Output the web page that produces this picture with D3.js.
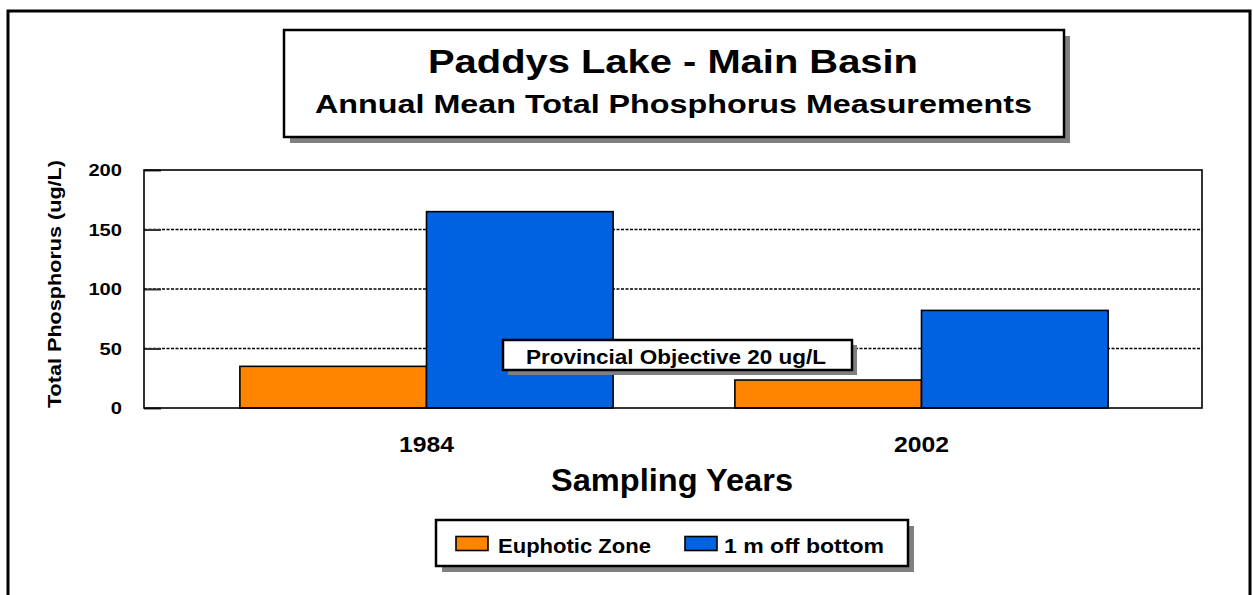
<!DOCTYPE html>
<html>
<head>
<meta charset="utf-8">
<script src="https://cdn.jsdelivr.net/npm/d3@7"></script>
<style>
  html, body { margin: 0; padding: 0; background: #fff; }
  svg { display: block; font-family: "Liberation Sans", Arial, sans-serif; font-weight: bold; }
</style>
</head>
<body>
<svg id="chart" width="1253" height="595"></svg>
<script>
// ---- Data ----
const years = ["1984", "2002"];
const seriesNames = ["Euphotic Zone", "1 m off bottom"];
const euphoticZone = [35, 23.5];
const offBottom = [165, 82];
const yTicks = [0, 50, 100, 150, 200];
const gridValues = [50, 100, 150];
const seriesColors = ["#ff8400", "#0062e0"];
const titleText = "Paddys Lake - Main Basin";
const subtitleText = "Annual Mean Total Phosphorus Measurements";
const xTitle = "Sampling Years";
const yTitle = "Total Phosphorus (ug/L)";
const objectiveText = "Provincial Objective 20 ug/L";

// ---- Layout ----
const svg = d3.select("#chart");
const plot = { left: 144, top: 170, right: 1202, bottom: 408 };

const x0 = d3.scaleBand().domain(years).range([179, 1169]).paddingInner(0);
const x1 = d3.scaleBand().domain(seriesNames)
  .range([x0.bandwidth() * 0.123, x0.bandwidth() * 0.877]).padding(0);
const y = d3.scaleLinear().domain([0, 200]).range([plot.bottom, plot.top]);
const color = d3.scaleOrdinal().domain(seriesNames).range(seriesColors);

const rows = years.map((yr, i) => ({ year: yr, values: [euphoticZone[i], offBottom[i]] }));

// Outer border
svg.append("rect").attr("x", 8).attr("y", 11).attr("width", 1242).attr("height", 640)
  .attr("fill", "none").attr("stroke", "#000").attr("stroke-width", 3);

// Helper: box with shadow
function shadowBox(x, yy, w, h, off) {
  svg.append("rect").attr("x", x + off).attr("y", yy + off).attr("width", w).attr("height", h)
    .attr("fill", "#808080");
  svg.append("rect").attr("x", x).attr("y", yy).attr("width", w).attr("height", h)
    .attr("fill", "#fff").attr("stroke", "#000").attr("stroke-width", 2.5);
}

// Title box
shadowBox(284, 30, 780, 107, 6);
svg.append("text").attr("x", 673).attr("y", 72.5).attr("text-anchor", "middle")
  .attr("font-size", 34).attr("textLength", 490).attr("lengthAdjust", "spacingAndGlyphs")
  .text(titleText);
svg.append("text").attr("x", 673.5).attr("y", 112.5).attr("text-anchor", "middle")
  .attr("font-size", 26.5).attr("textLength", 717).attr("lengthAdjust", "spacingAndGlyphs")
  .text(subtitleText);

// Plot background
svg.append("rect").attr("x", plot.left).attr("y", plot.top)
  .attr("width", plot.right - plot.left).attr("height", plot.bottom - plot.top)
  .attr("fill", "#fff");

// Gridlines
svg.append("g").selectAll("line").data(gridValues).join("line")
  .attr("x1", plot.left).attr("x2", plot.right)
  .attr("y1", d => y(d)).attr("y2", d => y(d))
  .attr("stroke", "#000").attr("stroke-width", 1.6).attr("stroke-dasharray", "3,1.5");

// Y axis
const yAxis = d3.axisLeft(y).tickValues(yTicks).tickSize(-17).tickPadding(22)
  .tickFormat(d3.format("d"));
const gy = svg.append("g").attr("transform", `translate(${plot.left},0)`).call(yAxis);
gy.select(".domain").remove();
gy.selectAll(".tick line").attr("stroke", "#333").attr("stroke-width", 2);
gy.selectAll(".tick text")
  .attr("font-family", "Liberation Sans, Arial, sans-serif").attr("font-weight", "bold")
  .attr("font-size", 17.2).attr("fill", "#000")
  .attr("textLength", d => String(d).length * 11.2).attr("lengthAdjust", "spacingAndGlyphs");

// Bars
const groups = svg.append("g").selectAll("g").data(rows).join("g")
  .attr("transform", d => `translate(${x0(d.year)},0)`);
groups.selectAll("rect").data(d => d.values.map((v, i) => ({ key: seriesNames[i], value: v })))
  .join("rect")
  .attr("x", d => x1(d.key))
  .attr("y", d => y(d.value))
  .attr("width", x1.bandwidth())
  .attr("height", d => y(0) - y(d.value))
  .attr("fill", d => color(d.key))
  .attr("stroke", "#000").attr("stroke-width", 1.6);

// Plot frame
svg.append("rect").attr("x", plot.left).attr("y", plot.top)
  .attr("width", plot.right - plot.left).attr("height", plot.bottom - plot.top)
  .attr("fill", "none").attr("stroke", "#000").attr("stroke-width", 1.6);

// X axis labels
const xAxis = d3.axisBottom(x0).tickSize(0).tickPadding(0);
const gx = svg.append("g").attr("transform", `translate(0,${plot.bottom})`).call(xAxis);
gx.select(".domain").remove();
gx.selectAll(".tick text")
  .attr("font-family", "Liberation Sans, Arial, sans-serif").attr("font-weight", "bold")
  .attr("font-size", 22).attr("fill", "#000").attr("dy", 0).attr("y", 43.5)
  .attr("textLength", 55).attr("lengthAdjust", "spacingAndGlyphs");

// Axis titles
svg.append("text").attr("x", 672).attr("y", 491).attr("text-anchor", "middle")
  .attr("font-size", 32).attr("textLength", 242).attr("lengthAdjust", "spacingAndGlyphs")
  .text(xTitle);
svg.append("text").attr("transform", "translate(61,284) rotate(-90)")
  .attr("text-anchor", "middle").attr("font-size", 17.5)
  .attr("textLength", 248).attr("lengthAdjust", "spacingAndGlyphs")
  .text(yTitle);

// Provincial Objective annotation
shadowBox(503, 340, 349, 30, 5);
svg.append("text").attr("x", 676).attr("y", 364).attr("text-anchor", "middle")
  .attr("font-size", 19.5).attr("textLength", 300).attr("lengthAdjust", "spacingAndGlyphs")
  .text(objectiveText);

// Legend
shadowBox(436, 520, 472, 46, 6);
const legendItems = [
  { swatchX: 456, textX: 498, textW: 153 },
  { swatchX: 685, textX: 724, textW: 160 }
];
const lg = svg.append("g").selectAll("g").data(seriesNames).join("g");
lg.append("rect")
  .attr("x", (d, i) => legendItems[i].swatchX).attr("y", 536.5)
  .attr("width", 32).attr("height", 14)
  .attr("fill", d => color(d)).attr("stroke", "#000").attr("stroke-width", 1.6);
lg.append("text")
  .attr("x", (d, i) => legendItems[i].textX).attr("y", 552.5)
  .attr("font-size", 19.5)
  .attr("textLength", (d, i) => legendItems[i].textW).attr("lengthAdjust", "spacingAndGlyphs")
  .text(d => d);
</script>
</body>
</html>
